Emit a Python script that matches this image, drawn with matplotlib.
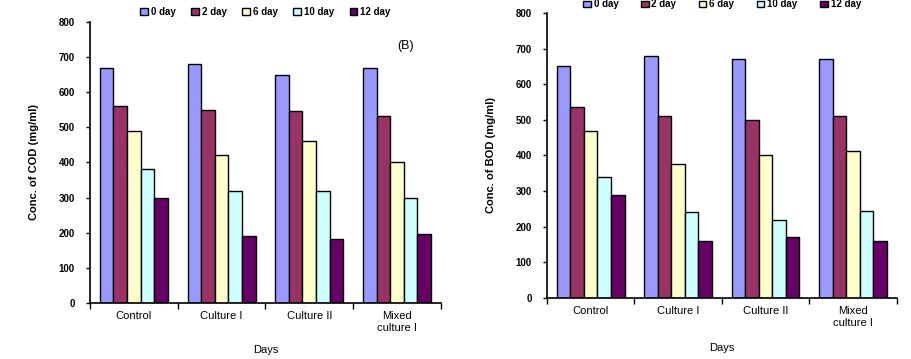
import numpy as np
import matplotlib
matplotlib.use('Agg')
from matplotlib import pyplot as plt

plt.rcParams['font.family'] = ['Liberation Sans', 'DejaVu Sans']
plt.rcParams['font.weight'] = 'bold'

# groups and sampling days
groups = ['Control', 'Culture I', 'Culture II', 'Mixed\nculture I']
days = ['0 day', '2 day', '6 day', '10 day', '12 day']
colors = ['#9999FF', '#993366', '#FFFFCC', '#CCFFFF', '#660066']

# COD concentration (mg/ml), one row per day
cod_0 = [670, 680, 650, 670]
cod_2 = [560, 550, 545, 532]
cod_6 = [490, 420, 462, 400]
cod_10 = [380, 320, 320, 300]
cod_12 = [300, 190, 183, 195]

# BOD concentration (mg/ml), one row per day
bod_0 = [650, 680, 672, 672]
bod_2 = [537, 510, 500, 510]
bod_6 = [469, 377, 400, 412]
bod_10 = [340, 242, 220, 245]
bod_12 = [290, 160, 172, 160]

cod = [cod_0, cod_2, cod_6, cod_10, cod_12]
bod = [bod_0, bod_2, bod_6, bod_10, bod_12]

fig = plt.figure(figsize=(9.11, 3.59), dpi=100)
ax1 = fig.add_axes([0.0988, 0.156, 0.385, 0.783])
ax2 = fig.add_axes([0.6004, 0.170, 0.384, 0.794])


def draw(ax, data, ylabel, legend_y, xlab_pad, col_space):
    x = np.arange(len(groups))
    w = 0.155
    for i, vals in enumerate(data):
        ax.bar(x - 2 * w + i * w, vals, w, color=colors[i], edgecolor='black',
               linewidth=1.0, label=days[i])
    ax.set_xlim(-0.5, len(groups) - 0.5)
    ax.set_ylim(0, 800)
    ax.set_yticks(range(0, 801, 100))
    ax.tick_params(axis='y', labelsize=7, length=3, width=1, pad=8)
    ax.set_xticks(x)
    ax.set_xticklabels(groups, fontsize=8, fontweight='normal', linespacing=1.2)
    ax.tick_params(axis='x', length=0, pad=6)
    # ticks between the groups
    ax.set_xticks(np.arange(-0.5, len(groups), 1.0), minor=True)
    ax.tick_params(axis='x', which='minor', length=4, width=1)
    for s in ['top', 'right']:
        ax.spines[s].set_visible(False)
    ax.spines['left'].set_linewidth(1.2)
    ax.spines['bottom'].set_linewidth(1.2)
    ax.set_ylabel(ylabel, fontsize=8, fontweight='bold', labelpad=14)
    ax.set_xlabel('Days', fontsize=8, fontweight='normal', labelpad=xlab_pad)
    ax.legend(loc='lower center', bbox_to_anchor=(0.5, legend_y), ncol=5,
              frameon=False, fontsize=7, handlelength=0.8, handleheight=0.7,
              handletextpad=0.3, columnspacing=col_space, borderpad=0)


draw(ax1, cod, 'Conc. of COD (mg/ml)', 1.0, 9, 1.6)
draw(ax2, bod, 'Conc. of BOD (mg/ml)', 0.995, 11, 2.3)
ax1.text(0.9, 0.915, '(B)', transform=ax1.transAxes, fontsize=9,
         fontweight='normal', ha='center', va='center')

fig.savefig('out.png', dpi=100)
